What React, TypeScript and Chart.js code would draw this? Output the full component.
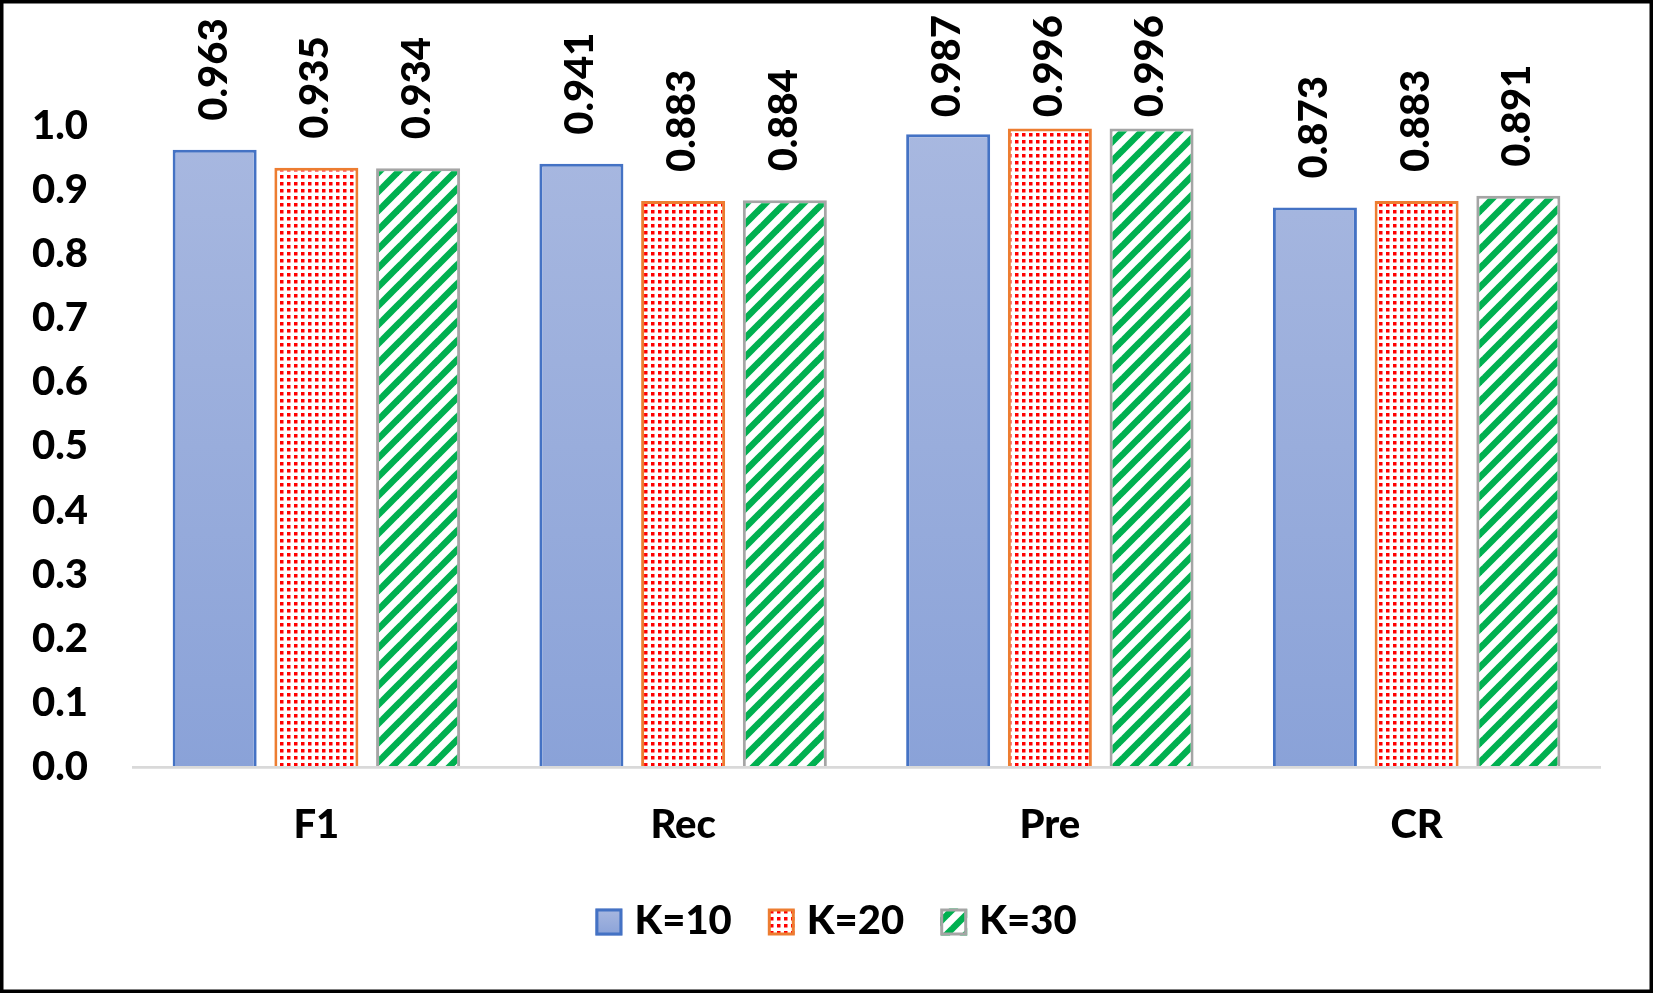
import React, { useEffect, useRef } from 'react';
import { Chart, registerables } from 'chart.js';

Chart.register(...registerables);

// ---- data ----
const categories = ['F1', 'Rec', 'Pre', 'CR'];
const seriesLabels = ['K=10', 'K=20', 'K=30'];
const k10Values = [0.963, 0.941, 0.987, 0.873];
const k20Values = [0.935, 0.883, 0.996, 0.883];
const k30Values = [0.934, 0.884, 0.996, 0.891];
const yMin = 0;
const yMax = 1;
const yStep = 0.1;

// ---- style ----
const W = 1653;
const H = 993;
const FONT = "Lato, 'Open Sans', sans-serif";
const FS = 40;
const FW = '900';
const K10_TOP = '#a8b8e0';
const K10_BOTTOM = '#8aa2d8';
const K10_BORDER = '#4472c4';
const K20_DOT = '#ff0000';
const K20_BORDER = '#ed7d31';
const K30_STRIPE = '#00b050';
const K30_BORDER = '#a5a5a5';

function makeDots(): CanvasPattern {
  const s = 7;
  const c = document.createElement('canvas');
  c.width = s;
  c.height = s;
  const g = c.getContext('2d')!;
  g.fillStyle = '#ffffff';
  g.fillRect(0, 0, s, s);
  g.fillStyle = K20_DOT;
  g.fillRect(0, 0, 3.5, 3.5);
  return g.createPattern(c, 'repeat')!;
}

function makeStripes(): CanvasPattern {
  const s = 19;
  const c = document.createElement('canvas');
  c.width = s;
  c.height = s;
  const g = c.getContext('2d')!;
  g.fillStyle = '#ffffff';
  g.fillRect(0, 0, s, s);
  g.strokeStyle = K30_STRIPE;
  g.lineWidth = 6.5;
  for (const k of [-1, 0, 1]) {
    g.beginPath();
    g.moveTo(k * s - s, 2 * s);
    g.lineTo(k * s + 2 * s, -s);
    g.stroke();
  }
  return g.createPattern(c, 'repeat')!;
}

export default function App() {
  const ref = useRef<HTMLCanvasElement | null>(null);

  useEffect(() => {
    document.body.style.margin = '0';
    const canvas = ref.current;
    if (!canvas) return;
    const dots = makeDots();
    const stripes = makeStripes();

    const legendFill = (ctx: CanvasRenderingContext2D, i: number, y0: number, y1: number) => {
      if (i === 0) {
        const g = ctx.createLinearGradient(0, y0, 0, y1);
        g.addColorStop(0, K10_TOP);
        g.addColorStop(1, K10_BOTTOM);
        return g;
      }
      return i === 1 ? dots : stripes;
    };

    const framePlugin = {
      id: 'frame',
      beforeDraw(chart: any) {
        const ctx = chart.ctx;
        ctx.save();
        ctx.fillStyle = '#ffffff';
        ctx.fillRect(0, 0, W, H);
        ctx.restore();
      },
      afterDraw(chart: any) {
        const ctx = chart.ctx;
        ctx.save();
        ctx.strokeStyle = '#000000';
        ctx.lineWidth = 3.5;
        ctx.strokeRect(1.75, 1.75, W - 3.5, H - 3.5);
        ctx.restore();
      },
    };

    const valueLabelPlugin = {
      id: 'valueLabels',
      afterDatasetsDraw(chart: any) {
        const ctx = chart.ctx;
        ctx.save();
        ctx.font = `${FW} ${FS}px ${FONT}`;
        ctx.fillStyle = '#000000';
        ctx.textAlign = 'left';
        ctx.textBaseline = 'middle';
        chart.data.datasets.forEach((ds: any, di: number) => {
          const meta = chart.getDatasetMeta(di);
          meta.data.forEach((bar: any, i: number) => {
            const text = Number(ds.data[i]).toFixed(3);
            const w = ctx.measureText(text).width;
            const start = Math.max(bar.y - 29, 15 + w);
            ctx.save();
            ctx.translate(bar.x - 1, start);
            ctx.rotate(-Math.PI / 2);
            ctx.fillText(text, 0, 0);
            ctx.restore();
          });
        });
        ctx.restore();
      },
    };

    const legendPlugin = {
      id: 'customLegend',
      afterDraw(chart: any) {
        const ctx = chart.ctx;
        const box = 27;
        const gapText = 12;
        const gapItem = 36;
        const cx = 836;
        const cy = 922;
        ctx.save();
        ctx.font = `${FW} ${FS}px ${FONT}`;
        const items = chart.data.datasets.map((ds: any) => ({
          label: ds.label as string,
          border: ds.borderColor as string,
          w: ctx.measureText(ds.label).width,
        }));
        let total = 0;
        items.forEach((it: any, i: number) => {
          total += box + gapText + it.w + (i > 0 ? gapItem : 0);
        });
        let x = cx - total / 2;
        items.forEach((it: any, i: number) => {
          const y0 = cy - box / 2;
          ctx.fillStyle = legendFill(ctx, i, y0, y0 + box);
          ctx.fillRect(x, y0, box, box);
          ctx.strokeStyle = it.border;
          ctx.lineWidth = 3;
          ctx.strokeRect(x + 1.5, y0 + 1.5, box - 3, box - 3);
          ctx.fillStyle = '#000000';
          ctx.textAlign = 'left';
          ctx.textBaseline = 'middle';
          ctx.fillText(it.label, x + box + gapText, cy - 1);
          x += box + gapText + it.w + gapItem;
        });
        ctx.restore();
      },
    };

    const k10Fill = (c: any) => {
      const area = c.chart.chartArea;
      if (!area) return K10_BOTTOM;
      const g = c.chart.ctx.createLinearGradient(0, area.top, 0, area.bottom);
      g.addColorStop(0, K10_TOP);
      g.addColorStop(1, K10_BOTTOM);
      return g;
    };

    const common = {
      categoryPercentage: 0.832,
      barPercentage: 0.826,
      borderWidth: 3,
    };

    const tickFont = { family: FONT, size: FS, weight: FW as any };

    const chart = new Chart(canvas, {
      type: 'bar',
      data: {
        labels: categories,
        datasets: [
          { label: seriesLabels[0], data: k10Values, backgroundColor: k10Fill, borderColor: K10_BORDER, ...common },
          { label: seriesLabels[1], data: k20Values, backgroundColor: dots as any, borderColor: K20_BORDER, ...common },
          { label: seriesLabels[2], data: k30Values, backgroundColor: stripes as any, borderColor: K30_BORDER, ...common },
        ],
      },
      options: {
        responsive: false,
        animation: false,
        layout: { padding: { top: 126, right: 53, bottom: 0, left: 0 } },
        plugins: {
          legend: { display: false },
          tooltip: { enabled: false },
        },
        scales: {
          x: {
            grid: { display: false, drawTicks: false },
            border: { display: true, color: '#d9d9d9', width: 2.7, z: 1 } as any,
            ticks: { color: '#000000', font: tickFont, padding: 34, maxRotation: 0, autoSkip: false },
            afterFit: (s: any) => {
              s.height = 226;
            },
          },
          y: {
            min: yMin,
            max: yMax,
            grid: { display: false, drawTicks: false },
            border: { display: false },
            ticks: {
              stepSize: yStep,
              color: '#000000',
              font: tickFont,
              padding: 45,
              callback: (v: any) => Number(v).toFixed(1),
            },
            afterFit: (s: any) => {
              s.width = 133;
            },
          },
        },
      },
      plugins: [framePlugin, valueLabelPlugin, legendPlugin],
    });

    return () => {
      chart.destroy();
    };
  }, []);

  return (
    <div style={{ position: 'absolute', left: 0, top: 0, width: W, height: H }}>
      <canvas ref={ref} width={W} height={H} style={{ width: W, height: H, display: 'block' }} />
    </div>
  );
}
